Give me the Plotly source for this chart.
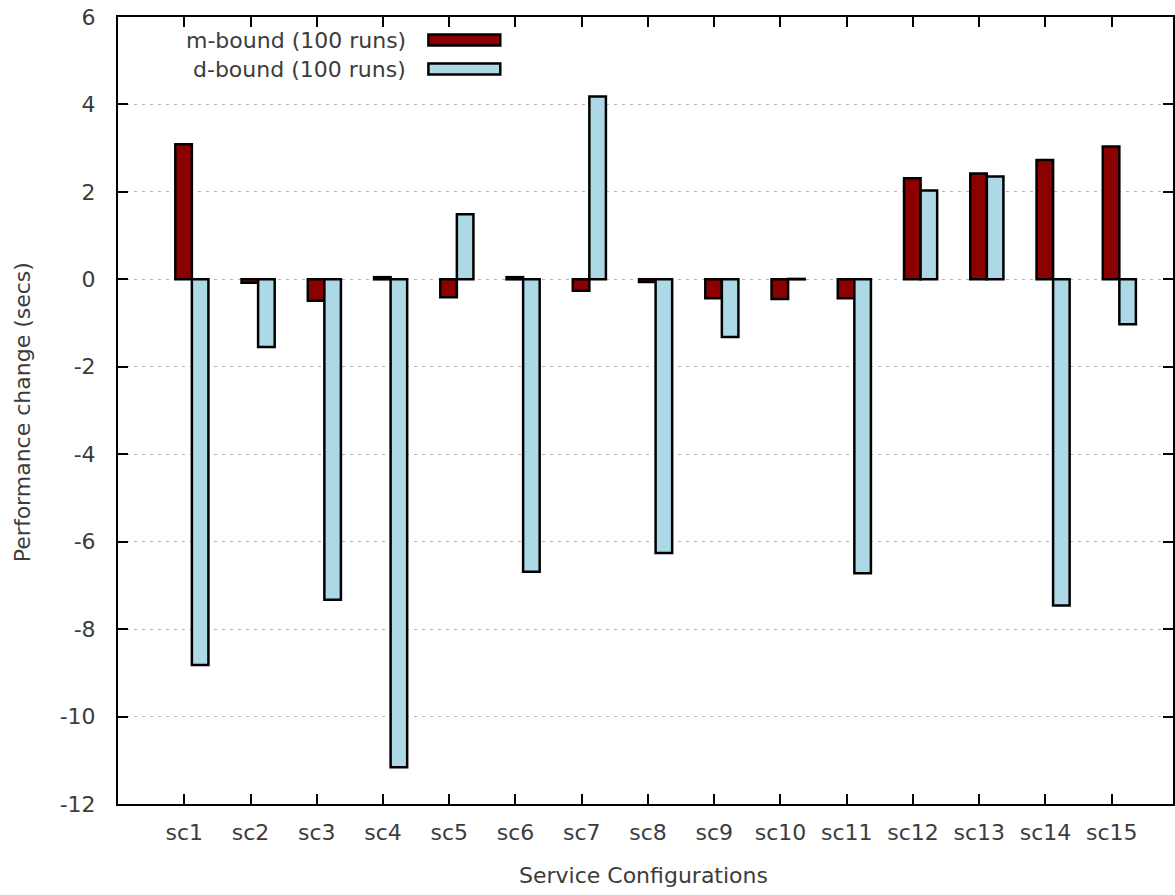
import plotly.graph_objects as go

# Service configurations and measured performance changes (seconds)
configs = ["sc1", "sc2", "sc3", "sc4", "sc5", "sc6", "sc7", "sc8",
           "sc9", "sc10", "sc11", "sc12", "sc13", "sc14", "sc15"]
m_bound = [3.09, -0.08, -0.49, 0.05, -0.41, 0.05, -0.26, -0.06,
           -0.43, -0.45, -0.43, 2.31, 2.42, 2.73, 3.04]
d_bound = [-8.82, -1.55, -7.33, -11.16, 1.49, -6.69, 4.18, -6.26,
           -1.32, 0.01, -6.72, 2.03, 2.35, -7.46, -1.03]
series_names = ["m-bound (100 runs)", "d-bound (100 runs)"]
y_ticks = [-12, -10, -8, -6, -4, -2, 0, 2, 4, 6]
y_tick_labels = [str(v) for v in y_ticks]

M_COLOR = "#8b0000"
D_COLOR = "#add8e6"
FONT = "DejaVu Sans"
FS = 22
TXT = "#3c3c3c"

W, H = 1175, 895
L, R, T, B = 118, 0, 17, 91

x = list(range(len(configs)))

fig = go.Figure()
fig.add_trace(go.Bar(
    x=x, y=m_bound, width=0.25, offset=-0.135, name=series_names[0],
    marker=dict(color=M_COLOR, line=dict(color="black", width=2.5)),
    showlegend=False))
fig.add_trace(go.Bar(
    x=x, y=d_bound, width=0.25, offset=0.115, name=series_names[1],
    marker=dict(color=D_COLOR, line=dict(color="black", width=2.5)),
    showlegend=False))

# pixel -> paper helpers for the hand-placed key and titles
pw = W - L - R
ph = H - T - B


def px(v):
    return (v - L) / pw


def py(v):
    return (H - B - v) / ph


# key: right-aligned labels with swatches to their right
key_rows = [(series_names[0], M_COLOR, 40), (series_names[1], D_COLOR, 69)]
for label, color, yc in key_rows:
    fig.add_annotation(
        x=px(409), y=py(yc), xref="paper", yref="paper",
        text=label, showarrow=False, xanchor="right", yanchor="middle",
        font=dict(family=FONT, size=FS, color=TXT))
    fig.add_shape(
        type="rect", xref="paper", yref="paper",
        x0=px(429), x1=px(501), y0=py(yc - 5.5), y1=py(yc + 5.5),
        fillcolor=color, line=dict(color="black", width=2.5))

# axis titles
fig.add_annotation(
    x=px(644), y=py(876), xref="paper", yref="paper",
    text="Service Configurations", showarrow=False,
    xanchor="center", yanchor="middle",
    font=dict(family=FONT, size=FS, color=TXT))
fig.add_annotation(
    x=px(23), y=py(412), xref="paper", yref="paper",
    text="Performance change (secs)", showarrow=False, textangle=-90,
    xanchor="center", yanchor="middle",
    font=dict(family=FONT, size=FS, color=TXT))

fig.update_layout(
    width=W, height=H,
    margin=dict(l=L, r=R, t=T, b=B, pad=0),
    paper_bgcolor="white", plot_bgcolor="white",
    barmode="overlay",
    font=dict(family=FONT, size=FS, color=TXT),
    xaxis=dict(
        range=[-1, 14.925], tickvals=x, ticktext=configs,
        showgrid=False, zeroline=False,
        showline=True, linecolor="black", linewidth=2, mirror="ticks",
        ticks="inside", ticklen=10, tickwidth=1.5, tickcolor="black",
        ticklabelstandoff=8,
        tickfont=dict(family=FONT, size=FS, color=TXT)),
    yaxis=dict(
        range=[-12, 6], tickvals=y_ticks, ticktext=y_tick_labels,
        showgrid=True, gridcolor="#b4b4b4", gridwidth=1, griddash="3px,5px",
        zeroline=False,
        showline=True, linecolor="black", linewidth=2, mirror="ticks",
        ticks="inside", ticklen=10, tickwidth=1.5, tickcolor="black",
        ticklabelstandoff=16,
        tickfont=dict(family=FONT, size=FS, color=TXT)),
)

fig.write_html("out.html")
